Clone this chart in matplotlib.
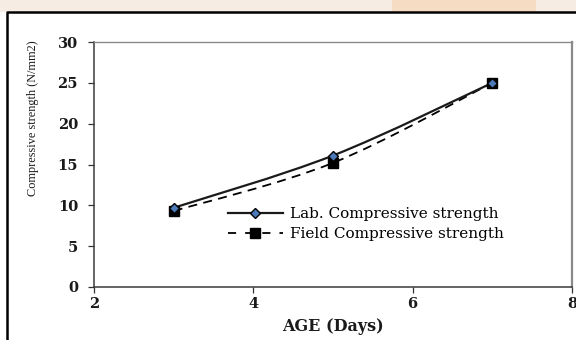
import matplotlib
matplotlib.use("Agg")
import matplotlib.pyplot as plt
from matplotlib.path import Path
from matplotlib.patches import PathPatch, Rectangle
from matplotlib.lines import Line2D

# data
age_days = [3, 5, 7]
lab_strength = [9.7, 16.1, 25.0]
field_strength = [9.3, 15.2, 25.0]
x_ticks = [2, 4, 6, 8]
y_ticks = [0, 5, 10, 15, 20, 25, 30]
lab_label = "Lab. Compressive strength"
field_label = "Field Compressive strength"


def smooth_path(xs, ys):
    # Excel-style smoothed line: cubic bezier segments (catmull-rom tangents)
    pts = list(zip(xs, ys))
    verts = [pts[0]]
    codes = [Path.MOVETO]
    n = len(pts)
    for i in range(n - 1):
        p0 = pts[i - 1] if i > 0 else pts[i]
        p1 = pts[i]
        p2 = pts[i + 1]
        p3 = pts[i + 2] if i + 2 < n else pts[i + 1]
        c1 = (p1[0] + (p2[0] - p0[0]) / 6, p1[1] + (p2[1] - p0[1]) / 6)
        c2 = (p2[0] - (p3[0] - p1[0]) / 6, p2[1] - (p3[1] - p1[1]) / 6)
        verts += [c1, c2, p2]
        codes += [Path.CURVE4] * 3
    return Path(verts, codes)


fig = plt.figure(figsize=(5.76, 3.4), dpi=100)
fig.patch.set_facecolor("white")

# faded page background above the frame
fig.patches.append(Rectangle((0, 1 - 12 / 340), 1, 12 / 340, transform=fig.transFigure,
                             facecolor="#f6ece4", edgecolor="none", zorder=0))
fig.patches.append(Rectangle((0.68, 1 - 12 / 340), 0.25, 12 / 340, transform=fig.transFigure,
                             facecolor="#f7dcc4", edgecolor="none", zorder=0))
# outer black frame (left and top)
fig.lines.append(Line2D([7 / 576, 7 / 576, 1], [0, 1 - 12 / 340, 1 - 12 / 340],
                        transform=fig.transFigure, color="black", linewidth=1.8))

ax = fig.add_axes([94 / 576, 1 - 287 / 340, 478 / 576, 245 / 340])

lab_color = "#1a1a1a"
field_color = "black"

ax.add_patch(PathPatch(smooth_path(age_days, field_strength), fill=False,
                       edgecolor=field_color, linewidth=1.3, linestyle=(0, (5, 3.5)), zorder=2))
ax.add_patch(PathPatch(smooth_path(age_days, lab_strength), fill=False,
                       edgecolor=lab_color, linewidth=1.6, zorder=3))
ax.plot(age_days, field_strength, linestyle="none", marker="s", markersize=7,
        markerfacecolor="black", markeredgecolor="black", zorder=4)
ax.plot(age_days, lab_strength, linestyle="none", marker="D", markersize=5.5,
        markerfacecolor="#4a7ab8", markeredgecolor="black", markeredgewidth=1.0, zorder=5)

ax.set_xlim(2, 8)
ax.set_ylim(0, 30)
ax.set_xticks(x_ticks)
ax.set_yticks(y_ticks)

tick_font = {"family": "DejaVu Serif", "weight": "bold", "size": 10.5}
ax.set_xticklabels([str(v) for v in x_ticks], fontdict=tick_font)
ax.set_yticklabels([str(v) for v in y_ticks], fontdict=tick_font)
ax.tick_params(axis="y", direction="out", length=4.5, width=0.9, pad=7, colors="#333333",
               labelcolor="#1a1a1a")
ax.tick_params(axis="x", direction="out", length=4, width=0.9, pad=3.5, colors="#333333",
               labelcolor="#1a1a1a")

for side in ["left", "bottom"]:
    ax.spines[side].set_color("#3a3a3a")
    ax.spines[side].set_linewidth(1.1)
ax.spines["top"].set_color("#8a8a8a")
ax.spines["top"].set_linewidth(1.0)
ax.spines["right"].set_color("#8a8a8a")
ax.spines["right"].set_linewidth(1.6)

ax.set_xlabel("AGE (Days)", family="DejaVu Serif", weight="bold", size=11.5, color="#1a1a1a")
ax.xaxis.set_label_coords(0.5, -0.125)
ax.set_ylabel("Compressive strength (N/mm2)", family="Liberation Serif", size=8.8, color="#1a1a1a")
ax.yaxis.set_label_coords(-0.115, 0.69)

handles = [
    Line2D([], [], color=lab_color, linewidth=1.6, marker="D", markersize=5.5,
           markerfacecolor="#4a7ab8", markeredgecolor="black"),
    Line2D([], [], color=field_color, linewidth=1.3, linestyle=(0, (4.5, 5)), marker="s",
           markersize=7, markerfacecolor="black"),
]
ax.legend(handles, [lab_label, field_label], loc="center left",
          bbox_to_anchor=(0.28, 0.257), frameon=False, borderpad=0, borderaxespad=0,
          handlelength=3.6, handletextpad=0.45, labelspacing=0.38,
          prop={"family": "DejaVu Serif", "size": 11})

fig.savefig("out.png", dpi=100)
plt.close(fig)
